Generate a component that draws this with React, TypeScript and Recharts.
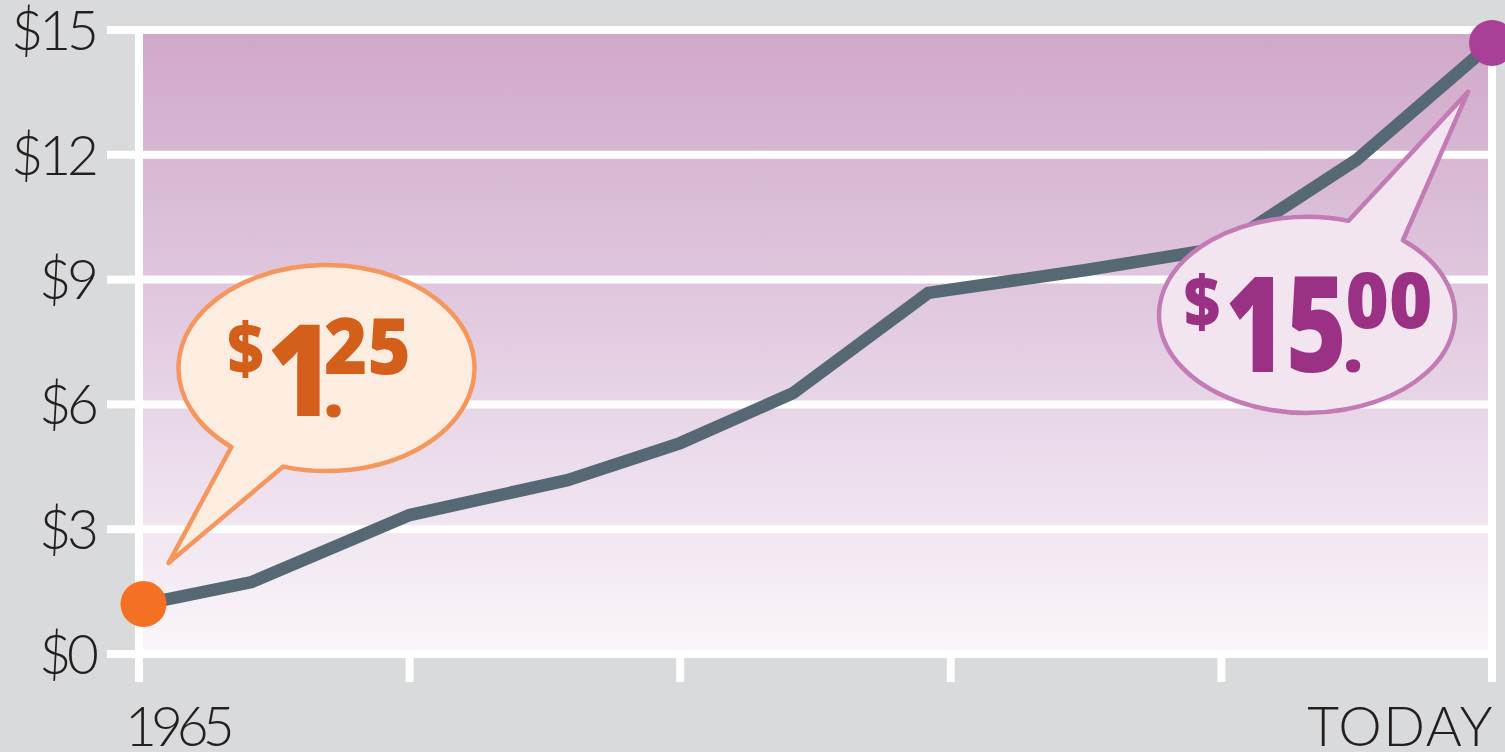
import { LineChart, Line, XAxis, YAxis, CartesianGrid, ReferenceLine } from 'recharts';

const years = [1965.2, 1970, 1977, 1984, 1989, 1994, 2000, 2007, 2013, 2019, 2025];
const wages = [1.2, 1.73, 3.34, 4.18, 5.07, 6.27, 8.68, 9.23, 9.76, 11.88, 14.69];
const yTicks = [0, 3, 6, 9, 12, 15];
const xTicks = [1965, 1977, 1989, 2001, 2013, 2025];
const xTickLabels = ['1965', '', '', '', '', 'TODAY'];
const startPrice = ['$', '1', '.', '25'];
const endPrice = ['$', '15', '.', '00'];

const data = years.map((year, i) => ({ year, wage: wages[i] }));

const tickFont = { fontFamily: 'Lato', fontWeight: 300, fontSize: 55, fill: '#231f20' };
const bubbleFont = 'Open Sans';

type Part = { dx: number; dy: number; size: number; sx?: number };

type BubbleProps = {
  x: number; y: number;
  dx: number; dy: number; rx: number; ry: number;
  a1: number; a2: number; tipX: number; tipY: number;
  fill: string; stroke: string; color: string;
  parts: string[];
  layout: Part[];
};

const Bubble = ({ x, y, dx, dy, rx, ry, a1, a2, tipX, tipY, fill, stroke, color, parts, layout }: BubbleProps) => {
  const cx = x + dx;
  const cy = y + dy;
  const pt = (a: number) => {
    const r = (a * Math.PI) / 180;
    return `${cx + rx * Math.cos(r)} ${cy + ry * Math.sin(r)}`;
  };
  const d = `M ${pt(a1)} A ${rx} ${ry} 0 1 0 ${pt(a2)} L ${x + tipX} ${y + tipY} Z`;
  return (
    <g>
      <path d={d} fill={fill} stroke={stroke} strokeWidth={4.5} strokeLinejoin="round" />
      {parts.map((p, i) => {
        const tx = cx + layout[i].dx;
        const sx = layout[i].sx ?? 1;
        return (
          <text
            key={i}
            x={tx}
            y={cy + layout[i].dy}
            textAnchor="middle"
            fontFamily={bubbleFont}
            fontWeight={800}
            fontSize={layout[i].size}
            transform={sx !== 1 ? `translate(${tx} 0) scale(${sx} 1) translate(${-tx} 0)` : undefined}
            fill={color}
          >
            {p}
          </text>
        );
      })}
    </g>
  );
};

const renderDot = (props: any) => {
  const { cx, cy, index } = props;
  if (index === 0) {
    return (
      <g key="dot-start">
        <circle cx={cx} cy={cy} r={23} fill="#f47023" />
        <Bubble
          x={cx} y={cy} dx={183} dy={-236} rx={148} ry={103}
          a1={107} a2={130} tipX={25} tipY={-41}
          fill="#fdede1" stroke="#f5975c" color="#d45f1b"
          parts={startPrice}
          layout={[
            { dx: -81, dy: 6, size: 70, sx: 0.9 },
            { dx: -26, dy: 48, size: 127, sx: 0.9 },
            { dx: 7, dy: 49, size: 70 },
            { dx: 41, dy: 6, size: 78, sx: 0.95 },
          ]}
        />
      </g>
    );
  }
  if (index === data.length - 1) {
    return (
      <g key="dot-end">
        <Bubble
          x={cx} y={cy} dx={-185} dy={272} rx={148} ry={98}
          a1={-73.7} a2={-49.6} tipX={-24} tipY={49}
          fill="#f3e5f0" stroke="#c27bb5" color="#9b3184"
          parts={endPrice}
          layout={[
            { dx: -105, dy: 12, size: 70, sx: 0.9 },
            { dx: -21, dy: 57, size: 133, sx: 0.78 },
            { dx: 46, dy: 57, size: 70 },
            { dx: 82, dy: 13, size: 78, sx: 0.95 },
          ]}
        />
        <circle cx={cx} cy={cy} r={23} fill="#a93f97" />
      </g>
    );
  }
  return <g key={`dot-${index}`} />;
};

const XTick = (props: any) => {
  const { x, y, payload } = props;
  const i = xTicks.indexOf(payload.value);
  const label = xTickLabels[i];
  if (!label) return <g />;
  const first = i === 0;
  return (
    <text
      x={first ? x - 14 : x + 2}
      y={y + 62}
      textAnchor={first ? 'start' : 'end'}
      letterSpacing={first ? -6 : 1.5}
      {...tickFont}
    >
      {label}
    </text>
  );
};

const YTick = (props: any) => {
  const { x, y, payload } = props;
  return (
    <text x={x + 2} y={y} dy="0.36em" textAnchor="end" letterSpacing={-4} {...tickFont}>
      {`$${payload.value}`}
    </text>
  );
};

export default function App() {
  return (
    <div style={{ position: 'absolute', left: 0, top: 0, width: 1505, height: 752, background: '#d9dadb', overflow: 'hidden' }}>
      <svg width={0} height={0} style={{ position: 'absolute' }}>
        <defs>
          <linearGradient id="plotBg" x1="0" y1="0" x2="0" y2="1">
            <stop offset="0%" stopColor="#d0a8c9" />
            <stop offset="50%" stopColor="#e3cde2" />
            <stop offset="100%" stopColor="#faf6fa" />
          </linearGradient>
        </defs>
      </svg>
      <LineChart width={1505} height={752} data={data} margin={{ top: 30, right: 13, left: 0, bottom: 0 }}>
        <CartesianGrid vertical={false} stroke="#ffffff" strokeWidth={8} fill="url(#plotBg)" fillOpacity={1} />
        <XAxis
          dataKey="year"
          type="number"
          domain={[1965, 2025]}
          ticks={xTicks}
          interval={0}
          height={98}
          axisLine={{ stroke: '#ffffff', strokeWidth: 8 }}
          tickLine={{ stroke: '#ffffff', strokeWidth: 8 }}
          tickSize={28}
          tick={<XTick />}
        />
        <YAxis
          width={139}
          domain={[0, 15]}
          ticks={yTicks}
          interval={0}
          axisLine={{ stroke: '#ffffff', strokeWidth: 8 }}
          tickLine={{ stroke: '#ffffff', strokeWidth: 8 }}
          tickSize={32}
          tickMargin={14}
          tick={<YTick />}
        />
        <ReferenceLine x={2025} stroke="#ffffff" strokeWidth={8} />
        <Line
          type="linear"
          dataKey="wage"
          stroke="#566873"
          strokeWidth={12.5}
          dot={renderDot}
          activeDot={false}
          isAnimationActive={false}
        />
      </LineChart>
    </div>
  );
}
